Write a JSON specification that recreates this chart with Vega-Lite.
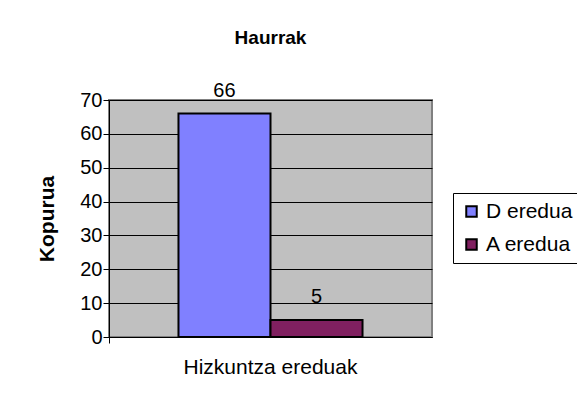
{
  "$schema": "https://vega.github.io/schema/vega-lite/v6.json",
  "width": 323,
  "height": 237,
  "autosize": "none",
  "padding": {"left": 109, "top": 100, "right": 145, "bottom": 68},
  "background": "white",
  "title": {"text": "Haurrak", "font": "Liberation Sans", "fontSize": 19, "fontWeight": "bold", "color": "black", "anchor": "middle", "offset": 33},
  "data": {"values": [
    {"kategoria": "Hizkuntza ereduak", "eredua": "D eredua", "kopurua": 66},
    {"kategoria": "Hizkuntza ereduak", "eredua": "A eredua", "kopurua": 5}
  ]},
  "encoding": {
    "x": {"field": "kategoria", "type": "nominal", "scale": {"paddingInner": 0, "paddingOuter": 0},
      "axis": {"title": null, "labelAngle": 0, "labelFont": "Liberation Sans", "labelFontSize": 21, "labelColor": "black", "labelPadding": 13, "tickSize": 6, "tickColor": "black", "domainColor": "black", "bandPosition": 0}},
    "xOffset": {"field": "eredua", "sort": ["D eredua", "A eredua"], "scale": {"paddingInner": 0, "paddingOuter": 0.755}},
    "y": {"field": "kopurua", "type": "quantitative", "scale": {"domain": [0, 70]},
      "axis": {"values": [0, 10, 20, 30, 40, 50, 60, 70], "title": "Kopurua", "titleFont": "Liberation Sans", "titleFontSize": 21, "titleFontWeight": "bold", "titleColor": "black", "titlePadding": 22,
        "labelFont": "Liberation Sans", "labelFontSize": 20, "labelColor": "black", "labelPadding": 1, "tickSize": 6, "tickColor": "black", "domainColor": "black", "gridColor": "black", "gridOpacity": 1, "grid": true}}
  },
  "layer": [
    {"mark": {"type": "bar", "stroke": "black", "strokeWidth": 2},
     "encoding": {"color": {"field": "eredua", "type": "nominal", "scale": {"domain": ["D eredua", "A eredua"], "range": ["#8080FF", "#802060"]},
       "legend": {"orient": "none", "legendX": 344, "legendY": 93, "title": null, "fillColor": "white", "strokeColor": "black", "padding": 8,
         "symbolType": "square", "symbolSize": 110, "symbolStrokeColor": "black", "symbolStrokeWidth": 2, "symbolOpacity": 1,
         "labelFont": "Liberation Sans", "labelFontSize": 21, "labelColor": "black", "labelOffset": 4, "rowPadding": 11}}}},
    {"mark": {"type": "text", "font": "Liberation Sans", "fontSize": 20, "color": "black", "baseline": "alphabetic", "dy": -17},
     "encoding": {"text": {"field": "kopurua", "type": "quantitative"}}}
  ],
  "config": {"view": {"fill": "#C0C0C0", "stroke": "#808080", "strokeWidth": 2}}
}
